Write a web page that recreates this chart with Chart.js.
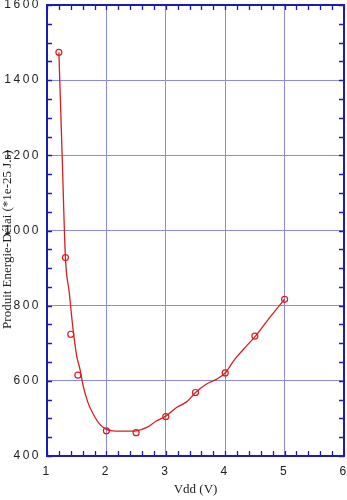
<!DOCTYPE html>
<html>
<head>
<meta charset="utf-8">
<script src="https://cdn.jsdelivr.net/npm/chart.js@4"></script>
<style>
  html, body { margin: 0; padding: 0; background: #fff; }
  #wrap { width: 347px; height: 500px; }
</style>
</head>
<body>
<div id="wrap"><canvas id="chartEDP"></canvas></div>
<script>
// Points mesurés
const vdd = [1.2, 1.31, 1.4, 1.52, 2.0, 2.5, 3.0, 3.5, 4.0, 4.5, 5.0];
const edp = [1474, 928, 724, 615, 467, 462, 505, 569, 621, 719, 817];

// Courbe lissée
const fitX = [1.2, 1.255, 1.31, 1.375, 1.42, 1.46, 1.5, 1.555, 1.61, 1.69, 1.78, 1.89, 2.0, 2.11, 2.3, 2.51, 2.68, 2.84, 3.0, 3.18, 3.35, 3.5, 3.68, 3.85, 4.0, 4.16, 4.36, 4.51, 4.69, 4.86, 5.0];
const fitY = [1474, 1200, 928, 835, 764, 710, 666, 631, 586, 542, 511, 484, 471, 467, 466, 467, 476, 493, 506, 529, 544, 569, 591, 604, 621, 657, 693, 719, 756, 790, 817];

const xTicks = [1, 2, 3, 4, 5, 6];
const yTicks = [400, 600, 800, 1000, 1200, 1400, 1600];

const red = '#d81e1e';
const frameBlue = '#1c1cb4';
const gridBlue = '#8a8ae8';

// chiffres espacés sur les axes
const origDrawLabels = Chart.Scale.prototype.drawLabels;
Chart.Scale.prototype.drawLabels = function (area) {
  this.ctx.save();
  this.ctx.letterSpacing = '2.5px';
  origDrawLabels.call(this, area);
  this.ctx.restore();
};
// titre vertical un peu plus bas, comme sur la figure
const origDrawTitle = Chart.Scale.prototype.drawTitle;
Chart.Scale.prototype.drawTitle = function () {
  this.ctx.save();
  if (this.axis === 'y') this.ctx.translate(0, 9);
  origDrawTitle.call(this);
  this.ctx.restore();
};

// cadre + petites graduations vers l'intérieur
const framePlugin = {
  id: 'frame',
  afterDraw(chart) {
    const { ctx, chartArea: a, scales: { x, y } } = chart;
    ctx.save();
    ctx.strokeStyle = frameBlue;
    ctx.lineWidth = 1.3;
    ctx.beginPath();
    for (let i = 5; i <= 30; i++) {
      const px = Math.round(x.getPixelForValue(i / 5)) + 0.5;
      ctx.moveTo(px, a.bottom); ctx.lineTo(px, a.bottom - 5);
      ctx.moveTo(px, a.top); ctx.lineTo(px, a.top + 5);
    }
    for (let v = 400; v <= 1600; v += 50) {
      const py = Math.round(y.getPixelForValue(v)) + 0.5;
      ctx.moveTo(a.left, py); ctx.lineTo(a.left + 5, py);
      ctx.moveTo(a.right, py); ctx.lineTo(a.right - 5, py);
    }
    ctx.stroke();
    ctx.lineWidth = 2;
    ctx.strokeRect(a.left, a.top, a.right - a.left, a.bottom - a.top);
    ctx.restore();
  }
};

const ctxEDP = document.getElementById('chartEDP').getContext('2d');
new Chart(ctxEDP, {
  type: 'scatter',
  data: {
    datasets: [{
      label: 'ajustement',
      data: fitX.map((v, i) => ({ x: v, y: fitY[i] })),
      showLine: true,
      borderColor: red,
      borderWidth: 1.3,
      pointRadius: 0,
      cubicInterpolationMode: 'monotone',
      fill: false,
    }, {
      label: 'mesures',
      data: vdd.map((v, i) => ({ x: v, y: edp[i] })),
      showLine: false,
      borderColor: red,
      backgroundColor: 'rgba(0,0,0,0)',
      borderWidth: 1.2,
      pointRadius: 3,
      pointStyle: 'circle',
    }]
  },
  options: {
    responsive: true,
    maintainAspectRatio: false,
    animation: false,
    layout: { autoPadding: false, padding: { top: 5, right: 3, left: 0, bottom: 0 } },
    plugins: {
      legend: { display: false },
      tooltip: { enabled: false },
    },
    scales: {
      x: {
        type: 'linear',
        min: xTicks[0],
        max: xTicks[xTicks.length - 1],
        afterBuildTicks: (s) => { s.ticks = xTicks.map(v => ({ value: v })); },
        afterFit: (s) => { s.height = 44; s.paddingLeft = 0; s.paddingRight = 0; },
        grid: { color: gridBlue, lineWidth: 1, drawTicks: false },
        border: { display: false },
        ticks: {
          padding: 8,
          color: '#222',
          font: { family: 'Liberation Sans', size: 12 },
          callback: (v) => String(v),
        },
        title: {
          display: true,
          text: 'Vdd (V)',
          color: '#222',
          font: { family: 'Liberation Serif', size: 13 },
          padding: { top: 0, bottom: 3 },
        },
      },
      y: {
        min: yTicks[0],
        max: yTicks[yTicks.length - 1],
        afterBuildTicks: (s) => { s.ticks = yTicks.map(v => ({ value: v })); },
        afterFit: (s) => { s.width = 47; s.paddingTop = 0; s.paddingBottom = 0; },
        grid: { color: gridBlue, lineWidth: 1, drawTicks: false },
        border: { display: false },
        ticks: {
          padding: 6,
          color: '#222',
          font: { family: 'Liberation Sans', size: 12 },
          callback: (v) => String(v),
        },
        title: {
          display: true,
          text: 'Produit Energie-Délai (*1e-25 J.s)',
          color: '#222',
          font: { family: 'Liberation Serif', size: 13 },
          padding: { top: 0, bottom: 0 },
        },
      },
    },
  },
  plugins: [framePlugin],
});
</script>
</body>
</html>
